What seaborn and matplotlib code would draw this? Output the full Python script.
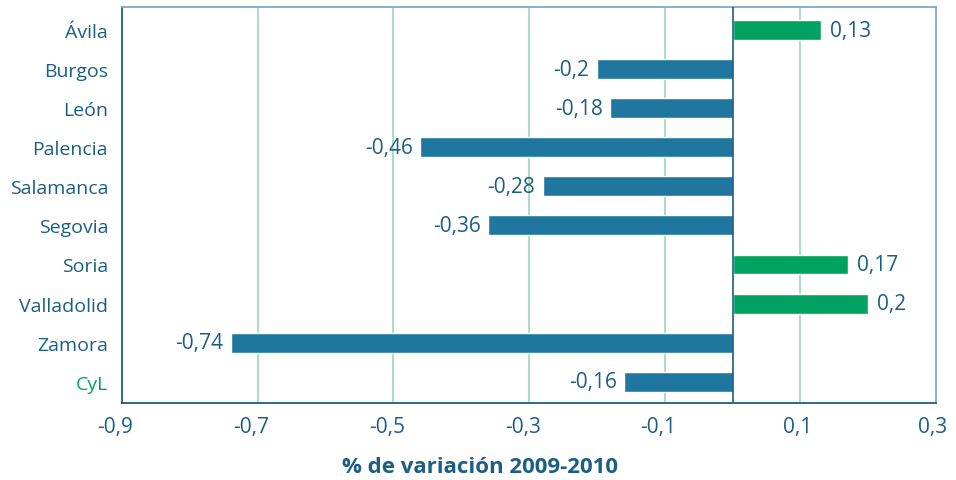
import matplotlib
matplotlib.use("Agg")
import matplotlib.pyplot as plt
from matplotlib.transforms import ScaledTranslation, blended_transform_factory
import numpy as np
import seaborn as sns
import pandas as pd

provincias = ["Ávila", "Burgos", "León", "Palencia", "Salamanca", "Segovia",
              "Soria", "Valladolid", "Zamora", "CyL"]
variacion = [0.13, -0.2, -0.18, -0.46, -0.28, -0.36, 0.17, 0.2, -0.74, -0.16]
etiquetas = ["0,13", "-0,2", "-0,18", "-0,46", "-0,28", "-0,36", "0,17", "0,2", "-0,74", "-0,16"]
x_ticks = [-0.9, -0.7, -0.5, -0.3, -0.1, 0.1, 0.3]
x_ticklabels = ["-0,9", "-0,7", "-0,5", "-0,3", "-0,1", "0,1", "0,3"]
titulo_x = "% de variación 2009-2010"

AZUL = "#1f77a0"
VERDE = "#00a262"
TEXTO = "#1b5e86"
REJILLA = "#8fd6b2"
MARCO = "#7ea9c9"

df = pd.DataFrame({"provincia": provincias, "variacion": variacion})
df["signo"] = ["pos" if v > 0 else "neg" for v in variacion]

sns.set_theme(style="white")
plt.rcParams["font.family"] = ["Open Sans", "DejaVu Sans"]

fig = plt.figure(figsize=(9.56, 4.81), dpi=100)
ax = fig.add_axes([122 / 956, 1 - 404 / 481, (936 - 122) / 956, (404 - 8) / 481])

sns.barplot(data=df, y="provincia", x="variacion", hue="signo",
            palette={"pos": VERDE, "neg": AZUL}, orient="h",
            width=0.51, dodge=False, legend=False, saturation=1, ax=ax)

n = len(provincias)
y_top, y_bottom = -0.589, n - 1 + 0.545
ax.set_xlim(-0.9, 0.3)
ax.set_ylim(y_bottom, y_top)

# vertical grid lines and zero axis
for xv in x_ticks[1:-1]:
    ax.axvline(xv, color=REJILLA, lw=1.1, zorder=0)
ax.axvline(0, color=TEXTO, lw=1.2, zorder=3)

# value labels
for i, (v, t) in enumerate(zip(variacion, etiquetas)):
    if v > 0:
        ax.text(v + 0.013, i, t, ha="left", va="center", fontsize=15, color=TEXTO)
    else:
        ax.text(v - 0.011, i, t, ha="right", va="center", fontsize=15, color=TEXTO)

# x tick labels with the decimal comma under each tick
ax.set_xticks(x_ticks)
ax.set_xticklabels([])
tr = blended_transform_factory(ax.transData, ax.transAxes) + \
    ScaledTranslation(11.5 / 100, -13 / 100, fig.dpi_scale_trans)
for xv, lbl in zip(x_ticks, x_ticklabels):
    ax.text(xv, 0, lbl, transform=tr, ha="right", va="top",
            fontsize=15, color=TEXTO, clip_on=False)

ax.set_yticks(range(n))
ax.set_yticklabels(provincias, fontsize=14, color=TEXTO)
ax.get_yticklabels()[-1].set_color(VERDE)
ax.tick_params(axis="y", length=0, pad=10)
ax.tick_params(axis="x", length=6, width=1.2, color=TEXTO, direction="out", pad=4)

# category separator ticks on the left axis
ax.set_yticks(np.linspace(y_top, y_bottom, n + 1), minor=True)
ax.tick_params(axis="y", which="minor", length=8, width=1.2, color=TEXTO, direction="out")

ax.set_xlabel("")
ax.set_ylabel("")

for side in ["left", "bottom"]:
    ax.spines[side].set_color(TEXTO)
    ax.spines[side].set_linewidth(1.3)
for side in ["top", "right"]:
    ax.spines[side].set_color(MARCO)
    ax.spines[side].set_linewidth(1.3)
    ax.spines[side].set_visible(True)

fig.text(480 / 956, 1 - 468 / 481, titulo_x, ha="center", va="center",
         fontsize=16, fontweight="bold", color=TEXTO)

fig.savefig("out.png", dpi=100, facecolor="white")
